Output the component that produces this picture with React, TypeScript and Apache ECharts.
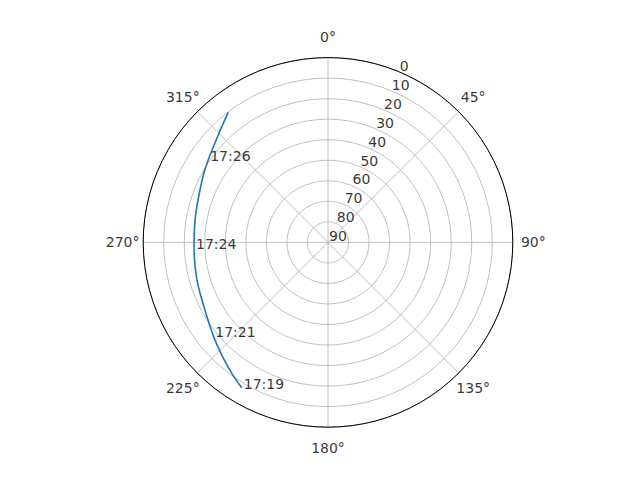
import React, { useEffect, useRef } from 'react';
import * as echarts from 'echarts';

// pass track: azimuth (deg, clockwise from north) and elevation (deg)
const azimuth = [210.7, 216.3, 223.4, 230.9, 243.3, 254.7, 267.5, 278.9, 288.8, 298.4, 304.5, 314.4, 322.5];
const elevation = [7.7, 10.9, 14.6, 18.0, 22.1, 23.7, 24.7, 24.4, 23.3, 21.0, 19.2, 15.2, 10.2];
const timeLabels = ['17:19', '', '', '17:21', '', '', '17:24', '', '', '', '17:26', '', ''];

const radialTicks = [0, 10, 20, 30, 40, 50, 60, 70, 80, 90];
const radialLabelAngle = 22.5;
const angleTicks = [0, 45, 90, 135, 180, 225, 270, 315];
// angle labels sit a little outside the rim (in elevation units, beyond 0)
const angleLabelRadius = -10;

const FONT = 'DejaVu Sans';

const App = () => {
    const chartRef = useRef<HTMLDivElement>(null);

    useEffect(() => {
        document.body.style.margin = '0';
        if (!chartRef.current) return;
        const myChart = echarts.init(chartRef.current, null, { renderer: 'svg' });

        const track = azimuth.map((az, i) => [elevation[i], az]);
        const marks = track
            .map((p, i) => ({ value: p, name: timeLabels[i] }))
            .filter((d) => d.name !== '');

        const textBase = {
            show: true,
            color: '#000000',
            fontSize: 14,
            fontFamily: FONT,
            textBorderWidth: 0,
        };

        const option = {
            animation: false,
            backgroundColor: '#ffffff',
            textStyle: { fontFamily: FONT },
            polar: {
                center: [328, 242.4],
                radius: 184.8,
            },
            angleAxis: {
                type: 'value',
                min: 0,
                max: 360,
                interval: 45,
                startAngle: 90,
                clockwise: true,
                axisLine: { show: true, lineStyle: { color: '#000000', width: 1 } },
                axisTick: { show: false },
                axisLabel: { show: false },
                splitLine: { show: true, lineStyle: { color: '#b0b0b0', width: 0.8 } },
            },
            radiusAxis: {
                type: 'value',
                min: 0,
                max: 90,
                interval: 10,
                inverse: true,
                axisLine: { show: false },
                axisTick: { show: false },
                axisLabel: { show: false },
                splitLine: { show: true, lineStyle: { color: '#b0b0b0', width: 0.8 } },
            },
            series: [
                {
                    type: 'line',
                    coordinateSystem: 'polar',
                    data: track,
                    smooth: 0.4,
                    showSymbol: false,
                    lineStyle: { color: '#1f77b4', width: 1.6 },
                    silent: true,
                    z: 3,
                },
                {
                    // time annotations
                    type: 'scatter',
                    coordinateSystem: 'polar',
                    data: marks,
                    symbolSize: 0,
                    silent: true,
                    label: {
                        ...textBase,
                        position: [0, 0],
                        align: 'left',
                        verticalAlign: 'bottom',
                        offset: [2, 3],
                        formatter: (p: any) => p.name,
                    },
                    z: 4,
                },
                {
                    // radial tick labels along 22.5°
                    type: 'scatter',
                    coordinateSystem: 'polar',
                    data: radialTicks.map((v) => [v, radialLabelAngle]),
                    symbolSize: 0,
                    silent: true,
                    label: {
                        ...textBase,
                        position: [0, 0],
                        align: 'left',
                        verticalAlign: 'bottom',
                        offset: [1, 1],
                        formatter: (p: any) => String(p.value[0]),
                    },
                    z: 4,
                },
                {
                    // angle tick labels around the rim
                    type: 'scatter',
                    coordinateSystem: 'polar',
                    data: angleTicks.map((a) => [angleLabelRadius, a]),
                    symbolSize: 0,
                    silent: true,
                    clip: false,
                    label: {
                        ...textBase,
                        position: [0, 0],
                        align: 'center',
                        verticalAlign: 'middle',
                        formatter: (p: any) => p.value[1] + '°',
                    },
                    z: 4,
                },
            ],
        };

        myChart.setOption(option as any);

        return () => {
            myChart.dispose();
        };
    }, []);

    return <div ref={chartRef} style={{ width: 640, height: 480 }}></div>;
};

export default App;
